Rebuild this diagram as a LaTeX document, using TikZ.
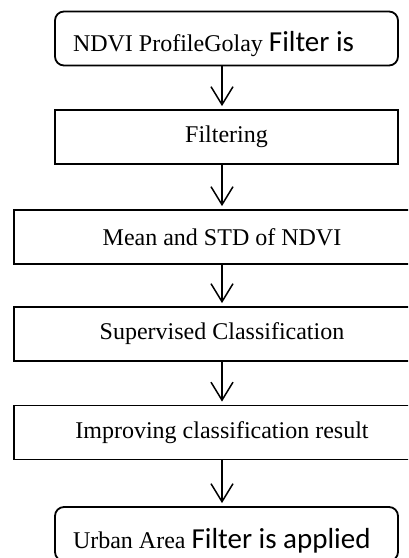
\documentclass[tikz,border=0pt]{standalone}
\usepackage{fontspec}
\setmainfont{Liberation Serif}
\newfontfamily\calfont{Carlito}
\usetikzlibrary{arrows.meta}

\tikzset{
  stage/.style={draw, line width=1.8pt, minimum height=54pt, inner sep=0pt,
    font=\fontsize{24}{27}\selectfont},
  narrowstage/.style={stage, minimum width=343pt},
  widestage/.style={stage, minimum width=416pt},
  terminal/.style={narrowstage, rounded corners=9pt, text depth=0pt,
    align=flush left, inner xsep=18pt, text width=307pt},
  flow/.style={line width=1.5pt, shorten >=3pt,
    -{Straight Barb[length=18pt,width=22pt]}}
}
\newcommand{\sansbit}[1]{{\calfont\fontsize{29}{31}\selectfont #1}}

\begin{document}
\begin{tikzpicture}[x=1pt, y=-1pt]
  \useasboundingbox (0,0) rectangle (408,558);
  \clip (0,0) rectangle (408,558);
  % Start
  \node[terminal, text height=25pt] (ndvi) at (226.5,38.5)
    {NDVI ProfileGolay \sansbit{Filter is}};
  % Processing steps
  \node[narrowstage] (filt) at (226.5,137) {Filtering};
  \node[widestage] (stats) at (222,237) {Mean and STD of NDVI};
  \node[widestage] (classif) at (222,334) {Supervised Classification};
  \node[widestage] (improve) at (222,432.5) {Improving classification result};
  % End
  \node[terminal, text height=28pt] (urban) at (226.5,534)
    {Urban Area \sansbit{Filter is applied}};
  % Connectors down the spine
  \coordinate (spine) at (222,0);
  \foreach \a/\b in {ndvi/filt, filt/stats, stats/classif,
                     classif/improve, improve/urban}{
    \draw[flow] (\a.south -| spine) -- (\b.north -| spine);
  }
\end{tikzpicture}
\end{document}
